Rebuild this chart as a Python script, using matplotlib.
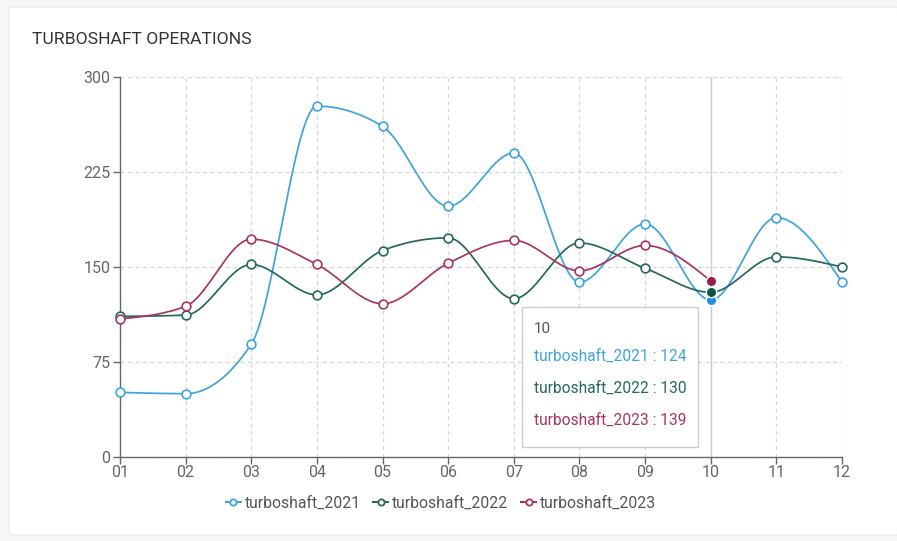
import numpy as np
import matplotlib

matplotlib.use("Agg")
import matplotlib.pyplot as plt
from matplotlib.lines import Line2D
from matplotlib.patches import FancyBboxPatch, Rectangle

plt.rcParams["font.family"] = ["Roboto", "DejaVu Sans"]

months = ["01", "02", "03", "04", "05", "06", "07", "08", "09", "10", "11", "12"]
turboshaft_2021 = [51, 50, 89, 277, 261, 198, 240, 138, 184, 124, 189, 138]
turboshaft_2022 = [111, 112, 152, 128, 163, 173, 125, 169, 149, 130, 158, 150]
turboshaft_2023 = [109, 119, 172, 152, 121, 153, 171, 147, 167, 139, None, None]
y_ticks = [0, 75, 150, 225, 300]
active_month = "10"

series = [
    ("turboshaft_2021", turboshaft_2021, "#3fa3de", "#1f8fe0"),
    ("turboshaft_2022", turboshaft_2022, "#24695c", "#0b5548"),
    ("turboshaft_2023", turboshaft_2023, "#a8355f", "#9b1c4c"),
]


def monotone_path(xs, ys, n=30):
    """Sample a d3-style monotoneX curve through the points."""
    xs = np.asarray(xs, float)
    ys = np.asarray(ys, float)
    m = len(xs)
    if m < 2:
        return xs, ys
    h = np.diff(xs)
    s = np.diff(ys) / h
    t = np.zeros(m)
    for i in range(1, m - 1):
        p = (s[i - 1] * h[i] + s[i] * h[i - 1]) / (h[i - 1] + h[i])
        t[i] = (np.sign(s[i - 1]) + np.sign(s[i])) * min(abs(s[i - 1]), abs(s[i]), 0.5 * abs(p))
    t[0] = (3 * s[0] - t[1]) / 2 if m > 2 else s[0]
    t[-1] = (3 * s[-1] - t[-2]) / 2 if m > 2 else s[-1]
    out_x, out_y = [], []
    u = np.linspace(0, 1, n)
    for i in range(m - 1):
        dx = h[i] / 3
        p0 = (xs[i], ys[i])
        p1 = (xs[i] + dx, ys[i] + dx * t[i])
        p2 = (xs[i + 1] - dx, ys[i + 1] - dx * t[i + 1])
        p3 = (xs[i + 1], ys[i + 1])
        bx = (1 - u) ** 3 * p0[0] + 3 * (1 - u) ** 2 * u * p1[0] + 3 * (1 - u) * u ** 2 * p2[0] + u ** 3 * p3[0]
        by = (1 - u) ** 3 * p0[1] + 3 * (1 - u) ** 2 * u * p1[1] + 3 * (1 - u) * u ** 2 * p2[1] + u ** 3 * p3[1]
        out_x.extend(bx)
        out_y.extend(by)
    return np.array(out_x), np.array(out_y)


fig = plt.figure(figsize=(8.97, 5.41), dpi=100)
fig.patch.set_facecolor("#f7f7f7")

# card background
card = FancyBboxPatch((9 / 897, 6 / 541), 890 / 897, 528 / 541,
                      boxstyle="round,pad=0,rounding_size=0.006",
                      transform=fig.transFigure, facecolor="white",
                      edgecolor="#ececec", linewidth=1.0, zorder=-10)
fig.patches.append(card)

fig.text(32 / 897, 1 - 39 / 541, "TURBOSHAFT OPERATIONS", fontsize=12.6,
         color="#333333", va="center", ha="left")

ax = fig.add_axes([120 / 897, 84 / 541, 722 / 897, 380 / 541])
ax.set_facecolor("none")

x = np.arange(len(months))
ax.set_xlim(0, len(months) - 1)
ax.set_ylim(0, 300)

# grid
for xi in x:
    ax.axvline(xi, color="#d4d4d4", lw=0.9, ls=(0, (3, 3)), zorder=1)
for yt in y_ticks:
    ax.axhline(yt, color="#d4d4d4", lw=0.9, ls=(0, (3, 3)), zorder=1)

# hover cursor
ai = months.index(active_month)
ax.axvline(ai, color="#cccccc", lw=1.0, zorder=2)

for name, vals, color, dark in series:
    pts = [(i, v) for i, v in enumerate(vals) if v is not None]
    px, py = zip(*pts)
    cx, cy = monotone_path(px, py)
    ax.plot(cx, cy, color=color, lw=1.25, zorder=3, solid_capstyle="round")
    mask = [i != ai for i in px]
    ax.plot(np.array(px)[mask], np.array(py)[mask], ls="none", marker="o",
            ms=6.3, mfc="white", mec=color, mew=1.2, zorder=4, clip_on=False)
    if vals[ai] is not None:
        ax.plot([ai], [vals[ai]], ls="none", marker="o", ms=7.5, mfc=dark,
                mec="white", mew=1.0, zorder=5, clip_on=False)

ax.set_xticks(x)
ax.set_xticklabels(months)
ax.set_yticks(y_ticks)
for side in ("top", "right"):
    ax.spines[side].set_visible(False)
for side in ("left", "bottom"):
    ax.spines[side].set_color("#666666")
    ax.spines[side].set_linewidth(1.0)
ax.tick_params(axis="both", colors="#666666", labelsize=11.5, length=5, width=1.0,
               labelcolor="#666666")
ax.tick_params(axis="x", pad=1)
ax.tick_params(axis="y", pad=2)

# tooltip
tx0, ty0 = 522 / 897, 1 - 447 / 541
tip = Rectangle((tx0, ty0), 176 / 897, 140 / 541, transform=fig.transFigure,
                facecolor="white", edgecolor="#cccccc", lw=1.0, zorder=10)
fig.patches.append(tip)
fig.text(534 / 897, 1 - 329 / 541, active_month, fontsize=11, color="#555555",
         va="center", ha="left", zorder=11)
for k, (name, vals, color, dark) in enumerate(series):
    fig.text(534 / 897, 1 - (356 + 32 * k) / 541, f"{name} : {vals[ai]}",
             fontsize=11.2, color=color, va="center", ha="left", zorder=11)

# legend
handles = [Line2D([0], [0], color=c, lw=1.5, marker="o", ms=4.5, mfc="white",
                  mec=c, mew=1.3) for _, _, c, _ in series]
fig.legend(handles, [s[0] for s in series], loc="center",
           bbox_to_anchor=(441 / 897, 1 - 503 / 541), ncol=3, frameon=False,
           fontsize=11.3, handlelength=0.95, handletextpad=0.25, columnspacing=0.8,
           labelcolor="#555555")

fig.savefig("out.png", dpi=100, facecolor=fig.get_facecolor())
